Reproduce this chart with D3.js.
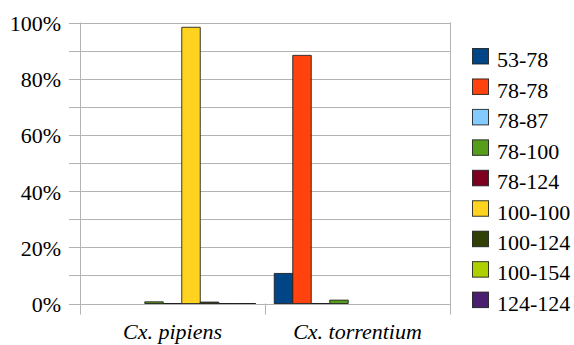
<!DOCTYPE html>
<html>
<head>
<meta charset="utf-8">
<script src="https://cdn.jsdelivr.net/npm/d3@7"></script>
<style>
  html, body { margin: 0; padding: 0; background: #fff; }
  svg { display: block; }
  svg text { font-family: "Liberation Serif", "DejaVu Serif", "Noto Serif", Times, serif; }
</style>
</head>
<body>
<svg id="chart" width="574" height="345"></svg>
<script>
const categories = ["Cx. pipiens", "Cx. torrentium"];
const seriesNames = ["53-78", "78-78", "78-87", "78-100", "78-124", "100-100", "100-124", "100-154", "124-124"];
const seriesColors = ["#004586", "#ff420e", "#83caff", "#579d1c", "#7e0021", "#ffd320", "#314004", "#aecf00", "#4b1f6f"];
// values in percent; null = no bar drawn
const pipiensValues = [null, null, null, 0.6, 0, 98.3, 0.5, 0, 0];
const torrentiumValues = [10.7, 88.3, 0, 1.2, null, null, null, null, null];
const yTicks = [0, 20, 40, 60, 80, 100];
const yGrid = [0, 10, 20, 30, 40, 50, 60, 70, 80, 90, 100];

const valuesByCategory = [pipiensValues, torrentiumValues];

const svg = d3.select("#chart");
const plotLeft = 80, plotRight = 450, plotTop = 22.5, plotBottom = 303.5;

const y = d3.scaleLinear().domain([0, 100]).range([plotBottom, plotTop]);
const x0 = d3.scaleBand().domain(categories).range([plotLeft, plotRight]).padding(0);
const x1 = d3.scaleBand().domain(seriesNames).range([0, x0.bandwidth()]).paddingInner(0).paddingOuter(0.5);

// gridlines + outward ticks
svg.append("g").selectAll("line").data(yGrid).join("line")
  .attr("x1", plotLeft - 11).attr("x2", plotRight)
  .attr("y1", d => Math.round(y(d)) + 0.5).attr("y2", d => Math.round(y(d)) + 0.5)
  .attr("stroke", "#b3b3b3").attr("stroke-width", 1);

// y axis line
svg.append("line").attr("x1", plotLeft + 0.5).attr("x2", plotLeft + 0.5)
  .attr("y1", plotTop).attr("y2", plotBottom + 11)
  .attr("stroke", "#b3b3b3");
// right frame line
svg.append("line").attr("x1", plotRight + 0.5).attr("x2", plotRight + 0.5)
  .attr("y1", plotTop).attr("y2", plotBottom + 11)
  .attr("stroke", "#b3b3b3");
// category separators
svg.append("g").selectAll("line").data(categories.slice(1)).join("line")
  .attr("x1", d => Math.round(x0(d)) + 0.5).attr("x2", d => Math.round(x0(d)) + 0.5)
  .attr("y1", plotBottom).attr("y2", plotBottom + 11)
  .attr("stroke", "#b3b3b3");

// y tick labels
svg.append("g").selectAll("text").data(yTicks).join("text")
  .attr("x", 61).attr("y", d => y(d) + 8.5)
  .attr("text-anchor", "end")
  .style("font-size", "22px")
  .attr("fill", "#000")
  .text(d => d + "%");

// bars
const groups = svg.append("g").selectAll("g").data(categories).join("g")
  .attr("transform", d => `translate(${x0(d)},0)`);
groups.selectAll("path")
  .data((c, ci) => seriesNames.map((s, si) => ({ s, si, v: valuesByCategory[ci][si] })).filter(d => d.v !== null))
  .join("path")
  .attr("d", d => {
    const xa = x1(d.s), xb = xa + x1.bandwidth();
    const y0 = y(0), yv = y(d.v);
    return `M${xa},${y0}V${yv}H${xb}V${y0}Z`;
  })
  .attr("fill", d => seriesColors[d.si])
  .attr("stroke", "#1a1a1a")
  .attr("stroke-opacity", 0.85)
  .attr("stroke-width", 1);

// x labels
svg.append("g").selectAll("text").data(categories).join("text")
  .attr("x", d => x0(d) + x0.bandwidth() / 2)
  .attr("y", 339)
  .attr("text-anchor", "middle")
  .style("font-size", "22px")
  .style("font-style", "italic")
  .attr("fill", "#000")
  .text(d => d);

// legend
const lg = svg.append("g").selectAll("g").data(seriesNames).join("g")
  .attr("transform", (d, i) => `translate(0,${i * 30.45})`);
lg.append("rect")
  .attr("x", 472.5).attr("y", 48.5).attr("width", 16).attr("height", 15.5)
  .attr("fill", (d, i) => seriesColors[i])
  .attr("stroke", "#1a1a1a").attr("stroke-opacity", 0.85);
lg.append("text")
  .attr("x", 497).attr("y", 67.3)
  .style("font-size", "22px")
  .attr("fill", "#000")
  .text(d => d);
</script>
</body>
</html>
